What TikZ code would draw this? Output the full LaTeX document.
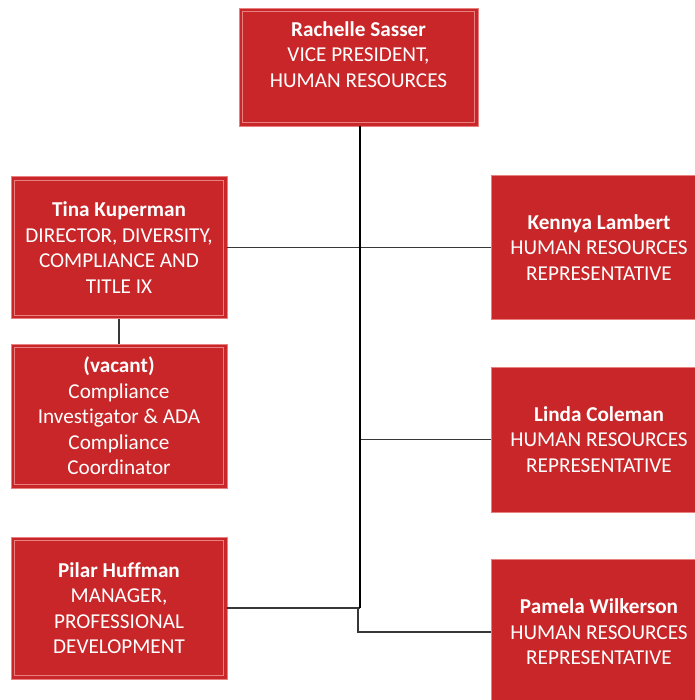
\documentclass[tikz,border=0pt]{standalone}
\usepackage{fontspec}
\setmainfont[Ligatures=NoCommon]{Carlito}
\definecolor{boxred}{RGB}{200,38,40}
\definecolor{rimred}{RGB}{232,128,128}
\definecolor{linkgray}{RGB}{55,55,55}
\begin{document}
\begin{tikzpicture}[x=1pt,y=-1pt,
  card/.style={draw=rimred, line width=0.8pt, fill=boxred, text=white,
    align=center, inner sep=0pt, font=\fontsize{21.2}{25.4}\selectfont},
  framed/.style={card, path picture={
    \draw[rimred, line width=0.7pt]
      ([shift={(3.5pt,-3.5pt)}]path picture bounding box.north west) rectangle
      ([shift={(-3.5pt,3.5pt)}]path picture bounding box.south east);}},
  trunk/.style={draw=black, line width=2pt},
  link/.style={draw=linkgray, line width=1.6pt}]
\useasboundingbox (0,0) rectangle (694,700);

% boxes
\node[framed, minimum width=239pt, minimum height=118pt] (vp) at (358.5,67)
  {\textbf{Rachelle Sasser}\\VICE PRESIDENT,\\HUMAN RESOURCES\\~};
\node[framed, minimum width=216pt, minimum height=142pt] (tina) at (119,247.5)
  {\textbf{Tina Kuperman}\\DIRECTOR, DIVERSITY,\\COMPLIANCE AND\\TITLE IX};
\node[framed, minimum width=216pt, minimum height=144pt] (vacant) at (119,416)
  {\textbf{(vacant)}\\Compliance\\Investigator \& ADA\\Compliance\\Coordinator};
\node[framed, minimum width=216pt, minimum height=142pt] (pilar) at (119,608)
  {\textbf{Pilar Huffman}\\MANAGER,\\PROFESSIONAL\\DEVELOPMENT};
\node[card, minimum width=216pt, minimum height=144pt] (kennya) at (599,247.5)
  {\textbf{Kennya Lambert}\\HUMAN RESOURCES\\REPRESENTATIVE};
\node[card, minimum width=216pt, minimum height=145pt] (linda) at (599,439.5)
  {\textbf{Linda Coleman}\\HUMAN RESOURCES\\REPRESENTATIVE};
\node[card, minimum width=216pt, minimum height=146pt] (pamela) at (599,632)
  {\textbf{Pamela Wilkerson}\\HUMAN RESOURCES\\REPRESENTATIVE};

% junctions on the trunk
\coordinate (j) at (360,608);
\coordinate (k) at (358,608);

% connectors
\draw[link] (tina.east) -- (kennya.west);
\draw[link] (linda.west) -- (linda.west -| j);
\draw[link] (pilar.east) -- (j);
\draw[link] (k) |- (pamela.west);
\draw[link] (tina.south) -- (vacant.north);
\draw[trunk] (vp.south -| j) -- (j);
\end{tikzpicture}
\end{document}
